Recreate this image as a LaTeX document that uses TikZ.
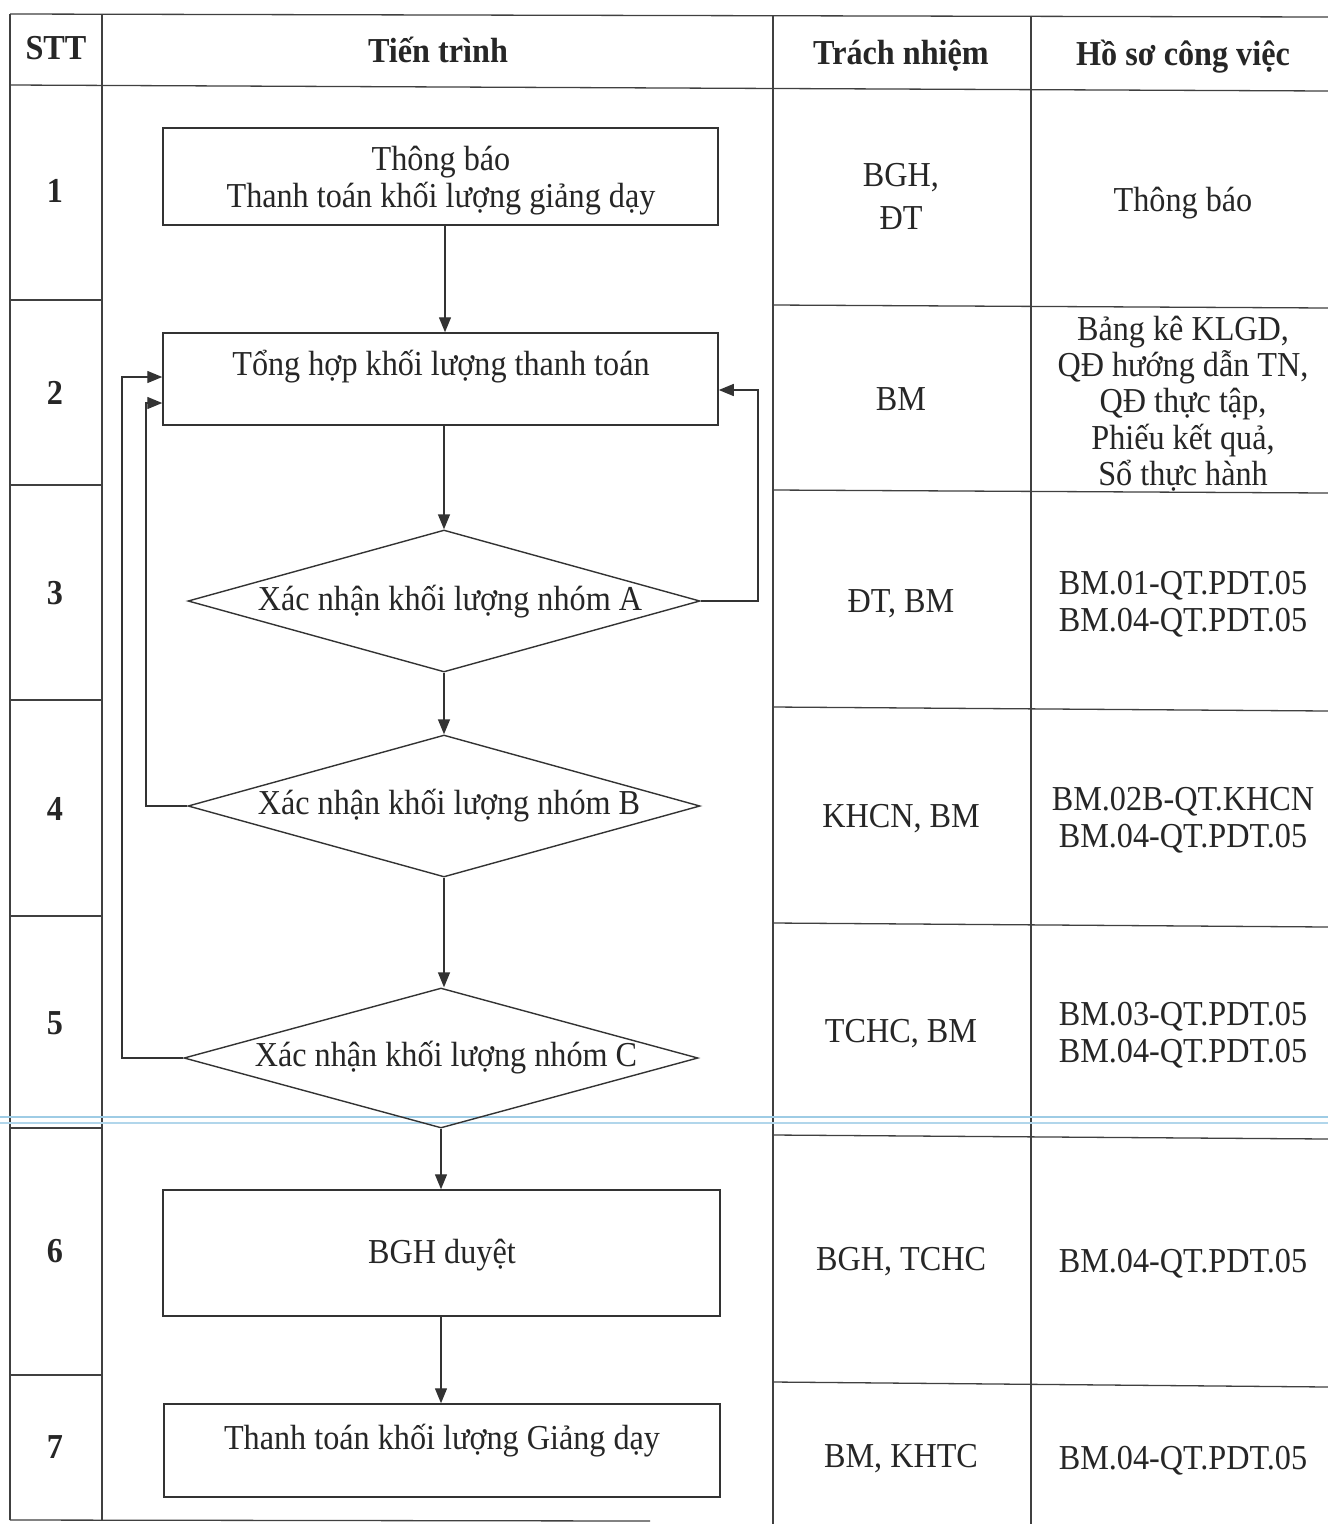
\documentclass[tikz,border=0pt]{standalone}
\usepackage{fontspec}
\setmainfont{Liberation Serif}[FakeStretch=0.92]
\usetikzlibrary{shapes.geometric,arrows.meta}
\begin{document}
\begin{tikzpicture}[x=1pt,y=-1pt,
  tline/.style={line width=1.3pt,draw=black!75},
  fbox/.style={draw=black!80,line width=1.5pt,rectangle,inner sep=0pt},
  fdia/.style={draw=black!80,line width=1.4pt,diamond,aspect=3.6,inner sep=0pt},
  arr/.style={draw=black!80,line width=1.4pt,-{Triangle[length=15pt,width=12pt]}},
  txt/.style={font=\fontsize{35}{37}\selectfont,align=center,text=black!85,inner sep=0pt},
  hdr/.style={font=\fontsize{35}{37}\selectfont\bfseries,align=center,text=black!85,inner sep=0pt},
]
\useasboundingbox (0,0) rectangle (1328,1524);
\fill[white] (0,0) rectangle (1328,1524);

% table grid
\draw[tline] (10,14) -- (1328,17);
\draw[tline] (10,85) -- (1328,91);
\draw[tline] (10,14) -- (10,1520);
\draw[tline] (102,14) -- (102,1520);
\draw[tline] (773,15) -- (773,1524);
\draw[tline] (1031,16) -- (1031,1524);
\foreach \yy in {300,485,700,916,1128,1375} \draw[tline] (10,\yy) -- (102,\yy);
\draw[tline] (773,305) -- (1328,308);
\draw[tline] (773,490) -- (1328,493);
\draw[tline] (773,707) -- (1328,711);
\draw[tline] (773,923) -- (1328,927);
\draw[tline] (773,1135) -- (1328,1139);
\draw[tline] (773,1382) -- (1328,1387);
\draw[tline] (10,1520) -- (650,1521);

% scan seam
\definecolor{seam}{rgb}{0.62,0.80,0.90}
\draw[seam,line width=1.3pt] (0,1117) -- (1328,1117);
\draw[seam!80,line width=1.3pt] (0,1123) -- (1328,1123);

% headers
\node[hdr] (hstt) at (56,48) {STT};
\node[hdr] (htt) at (438,50) {Tiến trình};
\node[hdr] (htn) at (901,56) {Trách nhiệm};
\node[hdr] (hhs) at (1183,57) {Hồ sơ công việc};

% step numbers
\node[hdr] (n1) at (55,191) {1};
\node[hdr] (n2) at (55,393) {2};
\node[hdr] (n3) at (55,593) {3};
\node[hdr] (n4) at (55,809) {4};
\node[hdr] (n5) at (55,1023) {5};
\node[hdr] (n6) at (55,1251) {6};
\node[hdr] (n7) at (55,1447) {7};

% flow nodes
\node[fbox,minimum width=555pt,minimum height=97pt] (b1) at (440.5,176.5) {};
\node[txt] (t1) at (441,181) {Thông báo\\Thanh toán khối lượng giảng dạy};
\node[fbox,minimum width=555pt,minimum height=92pt] (b2) at (440.5,379) {};
\node[txt] (t2) at (441,367) {Tổng hợp khối lượng thanh toán};
\node[fdia,minimum width=512pt,minimum height=142pt] (dA) at (444,601) {};
\node[txt] (tA) at (450,602) {Xác nhận khối lượng nhóm A};
\node[fdia,minimum width=512pt,minimum height=142pt] (dB) at (444,806) {};
\node[txt] (tB) at (449,806) {Xác nhận khối lượng nhóm B};
\node[fdia,minimum width=514pt,minimum height=140pt] (dC) at (441,1058) {};
\node[txt] (tC) at (446,1058) {Xác nhận khối lượng nhóm C};
\node[fbox,minimum width=557pt,minimum height=126pt] (b6) at (441.5,1253) {};
\node[txt] (t6) at (442,1255) {BGH duyệt};
\node[fbox,minimum width=556pt,minimum height=93pt] (b7) at (442,1450.5) {};
\node[txt] (t7) at (442,1441) {Thanh toán khối lượng Giảng dạy};

% connectors
\coordinate (x1) at (445,0);
\draw[arr] (b1.south -| x1) -- (b2.north -| x1);
\draw[arr] (b2.south -| dA.north) -- (dA.north);
\draw[arr] (dA.south) -- (dB.north);
\draw[arr] (dB.south) -- (dB.south |- dC.north);
\draw[arr] (dC.south) -- (b6.north -| dC.south);
\draw[arr] (b6.south -| dC.south) -- (b7.north -| dC.south);

\coordinate (rA) at (758,390);
\coordinate (lB) at (146,403);
\coordinate (lC) at (122,377);
\draw[arr] (dA.east) -| (rA) -- (b2.east |- rA);
\draw[arr] (dB.west) -| (lB) -- (b2.west |- lB);
\draw[arr] (dC.west) -| (lC) -- (b2.west |- lC);

% responsibility column
\node[txt,font=\fontsize{35}{43}\selectfont] (r1) at (901,196) {BGH,\\ĐT};
\node[txt] (r2) at (901,399) {BM};
\node[txt] (r3) at (901,604) {ĐT, BM};
\node[txt] (r4) at (901,819) {KHCN, BM};
\node[txt] (r5) at (901,1034) {TCHC, BM};
\node[txt] (r6) at (901,1262) {BGH, TCHC};
\node[txt] (r7) at (901,1459) {BM, KHTC};

% records column
\node[txt] (h1) at (1183,203) {Thông báo};
\node[txt,font=\fontsize{35}{36.3}\selectfont] (h2) at (1183,403.5) {Bảng kê KLGD,\\QĐ hướng dẫn TN,\\QĐ thực tập,\\Phiếu kết quả,\\Sổ thực hành};
\node[txt] (h3) at (1183,604.5) {BM.01-QT.PDT.05\\BM.04-QT.PDT.05};
\node[txt] (h4) at (1183,820) {BM.02B-QT.KHCN\\BM.04-QT.PDT.05};
\node[txt] (h5) at (1183,1035.5) {BM.03-QT.PDT.05\\BM.04-QT.PDT.05};
\node[txt] (h6) at (1183,1264) {BM.04-QT.PDT.05};
\node[txt] (h7) at (1183,1461) {BM.04-QT.PDT.05};
\end{tikzpicture}
\end{document}
